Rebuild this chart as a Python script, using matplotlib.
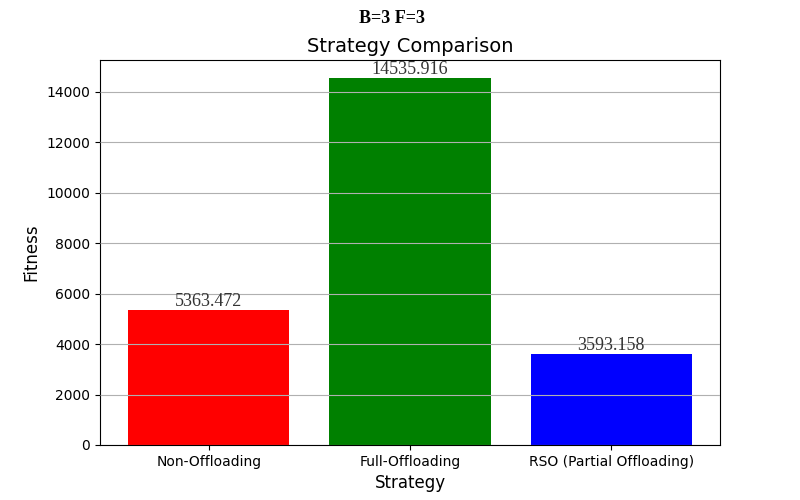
import matplotlib
matplotlib.use("Agg")
import matplotlib.pyplot as plt

# ---- Data ----
strategies = ["Non-Offloading", "Full-Offloading", "RSO (Partial Offloading)"]
fitness = [5363.472, 14535.916, 3593.158]
bar_colors = ["red", "green", "blue"]

fig, ax = plt.subplots(figsize=(8, 5), dpi=100)
bars = ax.bar(strategies, fitness, color=bar_colors)

for b, v in zip(bars, fitness):
    ax.text(b.get_x() + b.get_width() / 2, v, f"{v:.3f}", ha="center", va="bottom",
            fontsize=13, family="Liberation Serif", color="#333333")

ax.set_title("Strategy Comparison", fontsize=14)
ax.set_xlabel("Strategy", fontsize=12)
ax.set_ylabel("Fitness", fontsize=12)
ax.grid(axis="y")
ax.set_axisbelow(False)

fig.suptitle("B=3 F=3", x=0.49, fontsize=13, fontweight="bold", family="Liberation Serif")

fig.savefig("out.png")
